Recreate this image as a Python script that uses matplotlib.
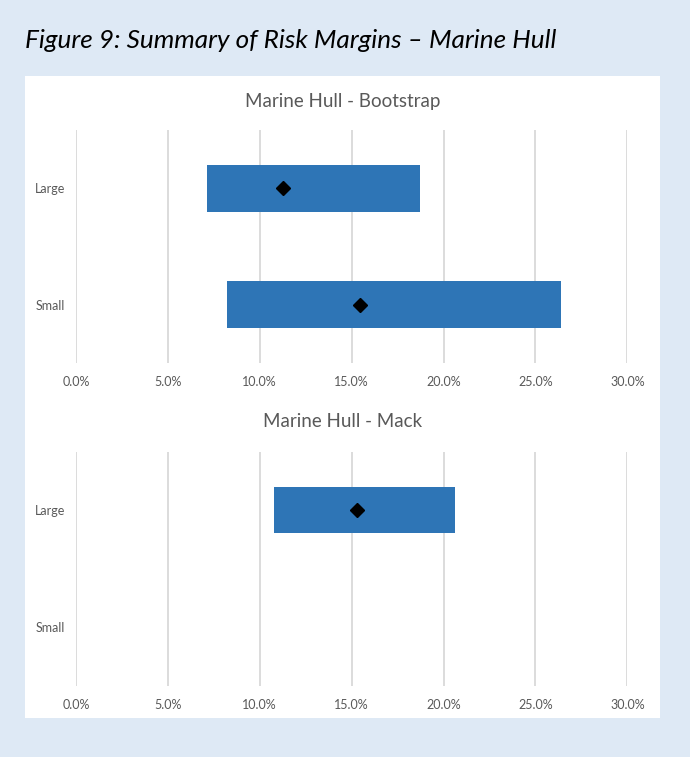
import matplotlib
matplotlib.use("Agg")
import matplotlib.pyplot as plt
from matplotlib.patches import Rectangle
import numpy as np

categories = ["Small", "Large"]
x_ticks = [0.0, 0.05, 0.10, 0.15, 0.20, 0.25, 0.30]
x_tick_labels = ["0.0%", "5.0%", "10.0%", "15.0%", "20.0%", "25.0%", "30.0%"]

boot_low = [0.0823, 0.0714]
boot_high = [0.2640, 0.1873]
boot_mean = [0.1545, 0.1125]

mack_low = [np.nan, 0.1077]
mack_high = [np.nan, 0.2064]
mack_mean = [np.nan, 0.1527]

W, H = 690, 757
fig = plt.figure(figsize=(W / 100, H / 100), dpi=100)
fig.patch.set_facecolor("#DEE9F5")
font = "Lato"
grey = "#595959"

fig.patches.append(Rectangle((25 / W, 1 - 718 / H), (660 - 25) / W, (718 - 76) / H,
                             transform=fig.transFigure, facecolor="white",
                             edgecolor="none", zorder=-5))

fig.text(25 / W, 1 - 40 / H, "Figure 9: Summary of Risk Margins \u2013 Marine Hull",
         fontsize=18.8, style="italic", family=font, color="black", va="center", ha="left")


def panel(rect, low, high, mean, title, title_y):
    ax = fig.add_axes(rect)
    ax.set_facecolor("none")
    y = np.arange(len(categories))
    low = np.array(low)
    high = np.array(high)
    ax.barh(y, high - low, left=low, height=0.4, color="#2E75B6", zorder=2)
    ax.plot(mean, y, linestyle="none", marker="D", markersize=7, color="black", zorder=3)
    ax.set_xlim(0, 0.30)
    ax.set_ylim(-0.5, 1.5)
    ax.set_xticks(x_ticks)
    ax.set_xticklabels(x_tick_labels)
    ax.set_yticks(y)
    ax.set_yticklabels(categories)
    ax.grid(axis="x", color="#D9D9D9", linewidth=1.3, zorder=0)
    ax.set_axisbelow(True)
    for s in ax.spines.values():
        s.set_visible(False)
    ax.tick_params(axis="both", length=0, labelsize=9, labelcolor=grey)
    ax.tick_params(axis="x", pad=9.5)
    ax.tick_params(axis="y", pad=8)
    for lab in ax.get_xticklabels() + ax.get_yticklabels():
        lab.set_family(font)
    fig.text(0.5 * (25 + 660) / W, 1 - title_y / H, title, fontsize=13.5, family=font,
             color=grey, ha="center", va="center")
    return ax


left = 76 / W
width = (627.3 - 76) / W
panel([left, 1 - 363 / H, width, (363 - 130) / H], boot_low, boot_high, boot_mean,
      "Marine Hull - Bootstrap", 101)
panel([left, 1 - 685.5 / H, width, (685.5 - 451.5) / H], mack_low, mack_high, mack_mean,
      "Marine Hull - Mack", 422)

fig.savefig("out.png", dpi=100, facecolor=fig.get_facecolor())
